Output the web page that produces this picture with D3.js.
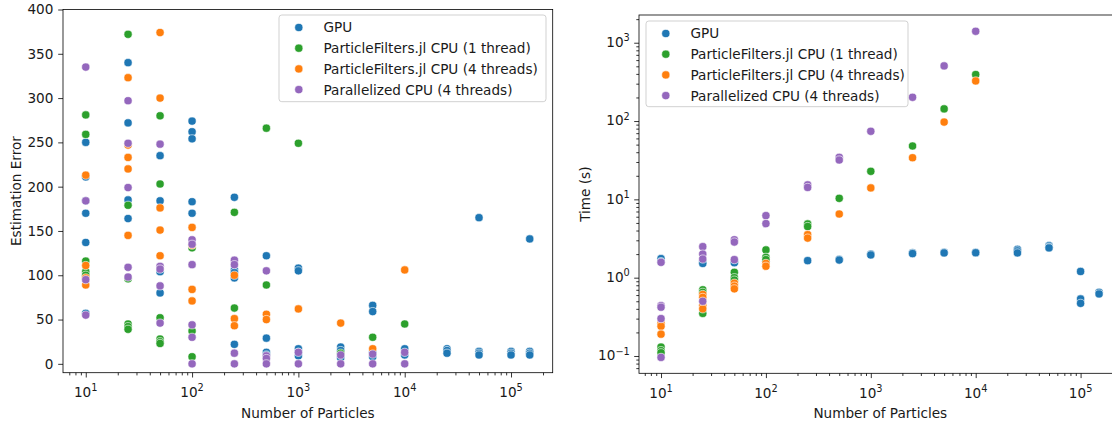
<!DOCTYPE html>
<html><head><meta charset="utf-8">
<script src="https://cdn.jsdelivr.net/npm/d3@7"></script>
<style>
body{margin:0;background:#fff}
svg{display:block}
text{font-family:"DejaVu Sans",sans-serif;fill:#1a1a1a}
</style>
</head><body>
<svg id="c" width="1112" height="425"></svg>
<script>
const seriesNames = ["GPU", "ParticleFilters.jl CPU (1 thread)", "ParticleFilters.jl CPU (4 threads)", "Parallelized CPU (4 threads)"];
const seriesColors = ["#1f77b4", "#2ca02c", "#ff7f0e", "#9467bd"];
const particles = [10, 25, 50, 100, 250, 500, 1000, 2500, 5000, 10000, 25000, 50000, 100000, 150000];

// Estimation error, one list of runs per particle count
const errGPU = [[250,211,184,170,137,57],[340,272,185,164],[235,184,104,80],[274,262,254,183,170],[188,106,103,97,22],[122,29,13,10],[108,105,17,13,9],[19,15,7],[66,59,13,8],[17,10],[17,15,12],[165,14,12,10],[14,12,10],[141,14,12,10]];
const errPF1 = [[281,259,116,104,100],[372,179,96,45,42,39],[280,203,52,28,25,23],[131,37,8],[171,63],[266,89],[249],[12],[30],[45]];
const errPF4 = [[213,111,97,89],[323,247,233,220,145],[374,300,176,151,122],[154,134,84,71],[100,51,43],[56,50],[62],[46],[17],[106]];
const errPar = [[335,184,95,55],[297,249,199,109,98],[248,110,107,88,46],[140,135,112,44,30,0],[117,112,12,0],[105,9,6,0],[13,0],[10,0],[11,0],[13,0]];

// Time (s)
const timeGPU = [[1.75,1.6],[1.6,1.52],[1.6,1.55],[1.62],[1.65],[1.72,1.68],[2.0,1.95],[2.07,2.03],[2.1,2.07],[2.1,2.08],[2.3,2.2,2.07],[2.56,2.45,2.4],[1.2,0.535,0.47],[0.65,0.62]];
const timePF1 = [[0.13,0.117,0.11],[0.70,0.65,0.35],[1.17,1.0,0.93],[2.26,1.82,1.70],[4.85,4.5],[10.3],[22.8],[48],[143],[392]];
const timePF4 = [[0.26,0.24,0.19],[0.61,0.56,0.44,0.40],[0.85,0.78,0.72],[1.52,1.40],[3.54,3.2],[6.5],[14],[34],[97],[325]];
const timePar = [[1.57,0.44,0.42,0.30,0.096],[2.49,2.0,1.73,0.50],[3.05,2.85,1.70],[6.2,4.9],[15.3,14.2],[34.4,31.8],[74],[201],[506],[1400]];

const errTicks = [0, 50, 100, 150, 200, 250, 300, 350, 400];
const xExps = [1, 2, 3, 4, 5];
const timeExps = [-1, 0, 1, 2, 3];

const FS = 13.6;
const svg = d3.select("#c");

function flatten(runs) {
  const pts = [];
  runs.forEach((vals, i) => vals.forEach(v => pts.push([particles[i], v])));
  return pts;
}

function minorLog(domain) {
  const out = [];
  for (let k = -3; k <= 6; k++) for (let m = 2; m <= 9; m++) {
    const v = m * Math.pow(10, k);
    if (v >= domain[0] && v <= domain[1]) out.push(v);
  }
  return out;
}

function supLabel(g, x, y, exp, anchor) {
  const t = g.append("text").attr("x", x).attr("y", y).attr("text-anchor", anchor).style("font-size", FS + "px");
  t.append("tspan").text("10");
  t.append("tspan").attr("dy", -FS * 0.42).style("font-size", (FS * 0.72) + "px").text(exp < 0 ? "\u2212" + (-exp) : String(exp));
}

function panel(p) {
  const g = svg.append("g");
  const x = d3.scaleLog().domain(p.xDomain).range([p.x0, p.x1]);
  const y = p.yLog ? d3.scaleLog().domain(p.yDomain).range([p.y1, p.y0])
                   : d3.scaleLinear().domain(p.yDomain).range([p.y1, p.y0]);
  const clipId = "clip" + p.id;
  svg.append("clipPath").attr("id", clipId).append("rect")
    .attr("x", p.x0).attr("y", p.y0).attr("width", p.x1 - p.x0).attr("height", p.y1 - p.y0);

  // points
  const pg = g.append("g").attr("clip-path", `url(#${clipId})`);
  p.series.forEach((runs, si) => {
    pg.append("g").selectAll("circle").data(flatten(runs)).join("circle")
      .attr("cx", d => x(d[0])).attr("cy", d => y(d[1])).attr("r", 4.1)
      .attr("fill", seriesColors[si]).attr("stroke", "#fff").attr("stroke-width", 0.6);
  });

  // axes
  const xa = g.append("g").attr("transform", `translate(0,${p.y1})`)
    .call(d3.axisBottom(x).tickValues(xExps.map(e => Math.pow(10, e))).tickFormat("").tickSize(4.8).tickSizeOuter(0));
  const xm = g.append("g").attr("transform", `translate(0,${p.y1})`)
    .call(d3.axisBottom(x).tickValues(minorLog(p.xDomain)).tickFormat("").tickSize(2.7).tickSizeOuter(0));
  [xa, xm].forEach(a => { a.select(".domain").remove(); a.selectAll("line").attr("stroke", "#000").attr("stroke-width", 0.8); });
  xExps.forEach(e => supLabel(g, x(Math.pow(10, e)), p.y1 + 24.5, e, "middle"));

  if (p.yLog) {
    const ya = g.append("g").attr("transform", `translate(${p.x0},0)`)
      .call(d3.axisLeft(y).tickValues(timeExps.map(e => Math.pow(10, e))).tickFormat("").tickSize(4.8).tickSizeOuter(0));
    const ym = g.append("g").attr("transform", `translate(${p.x0},0)`)
      .call(d3.axisLeft(y).tickValues(minorLog(p.yDomain)).tickFormat("").tickSize(2.7).tickSizeOuter(0));
    [ya, ym].forEach(a => { a.select(".domain").remove(); a.selectAll("line").attr("stroke", "#000").attr("stroke-width", 0.8); });
    timeExps.forEach(e => supLabel(g, p.x0 - 9.2, y(Math.pow(10, e)) + 4.3, e, "end"));
  } else {
    const ya = g.append("g").attr("transform", `translate(${p.x0},0)`)
      .call(d3.axisLeft(y).tickValues(errTicks).tickFormat(d3.format("d")).tickSize(4.8).tickPadding(4.8).tickSizeOuter(0));
    ya.select(".domain").remove();
    ya.selectAll("line").attr("stroke", "#000").attr("stroke-width", 0.8);
    ya.selectAll("text").attr("font-family", null).style("font-size", FS + "px").attr("fill", "#1a1a1a");
  }

  // spines
  g.append("rect").attr("x", p.x0).attr("y", p.y0).attr("width", p.x1 - p.x0).attr("height", p.y1 - p.y0)
    .attr("fill", "none").attr("stroke", "#000").attr("stroke-width", 0.8);

  // labels
  g.append("text").attr("x", (p.x0 + p.x1) / 2).attr("y", p.xLabelY).attr("text-anchor", "middle")
    .style("font-size", FS + "px").text("Number of Particles");
  g.append("text").attr("transform", `translate(${p.yLabelX},${(p.y0 + p.y1) / 2}) rotate(-90)`)
    .attr("text-anchor", "middle").style("font-size", FS + "px").text(p.yLabel);

  // legend
  const L = p.legend;
  const lg = g.append("g");
  lg.append("rect").attr("x", L.x).attr("y", L.y).attr("width", L.w).attr("height", L.h)
    .attr("rx", 2.8).attr("fill", "#fff").attr("fill-opacity", 0.8).attr("stroke", "#cccccc").attr("stroke-width", 0.9);
  seriesNames.forEach((name, i) => {
    const cy = L.y + 12.5 + i * 20.7;
    lg.append("circle").attr("cx", L.x + 19.8).attr("cy", cy).attr("r", 4.1)
      .attr("fill", seriesColors[i]).attr("stroke", "#fff").attr("stroke-width", 0.6);
    lg.append("text").attr("x", L.x + 44.5).attr("y", cy + 4.9).style("font-size", FS + "px").text(name);
  });
}

panel({
  id: "a", x0: 63, x1: 552.7, y0: 9.5, y1: 372.7,
  xDomain: [Math.pow(10, 0.786), Math.pow(10, 5.392)],
  yLog: false, yDomain: [-10, 400],
  series: [errGPU, errPF1, errPF4, errPar],
  yLabel: "Estimation Error", yLabelX: 20.5, xLabelY: 418,
  legend: {x: 279, y: 15, w: 267, h: 86.7}
});

panel({
  id: "b", x0: 639, x1: 1121.6, y0: 15, y1: 373.3,
  xDomain: [Math.pow(10, 0.79), Math.pow(10, 5.391)],
  yLog: true, yDomain: [Math.pow(10, -1.221), Math.pow(10, 3.354)],
  series: [timeGPU, timePF1, timePF4, timePar],
  yLabel: "Time (s)", yLabelX: 589.5, xLabelY: 418,
  legend: {x: 646, y: 21, w: 262, h: 85.7}
});
</script>
</body></html>
